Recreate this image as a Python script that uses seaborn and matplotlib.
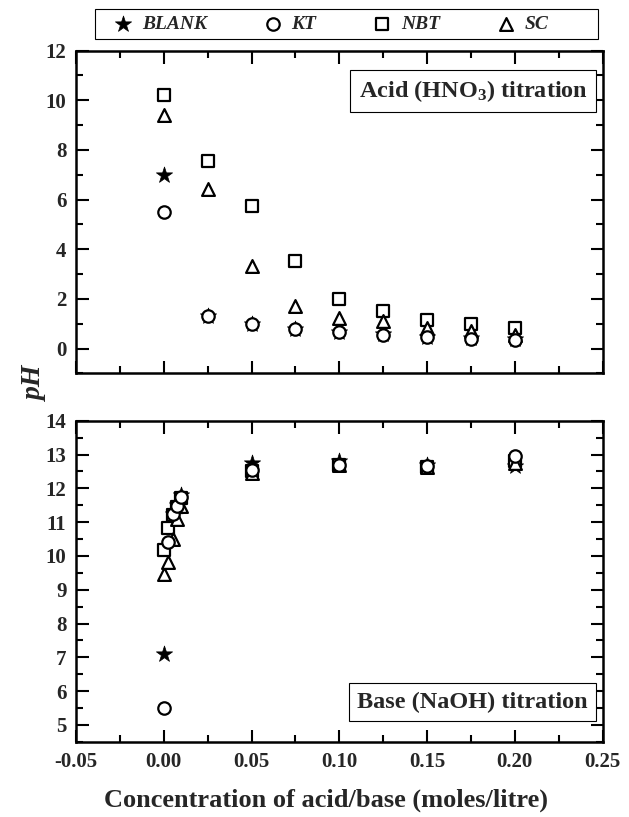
import matplotlib
matplotlib.use("Agg")
import matplotlib.pyplot as plt
import seaborn as sns
import numpy as np
from matplotlib.ticker import MultipleLocator, FormatStrFormatter
from matplotlib.patches import Rectangle

# ---------------- data ----------------
series = ["BLANK", "KT", "NBT", "SC"]

acid_x = [0.0, 0.025, 0.05, 0.075, 0.1, 0.125, 0.15, 0.175, 0.2]
acid_blank = [7.0, 1.30, 1.00, 0.80, 0.65, 0.58, 0.48, 0.42, 0.38]
acid_kt = [5.52, 1.30, 0.99, 0.80, 0.66, 0.56, 0.45, 0.40, 0.36]
acid_nbt = [10.2, 7.56, 5.74, 3.51, 2.00, 1.53, 1.17, 0.97, 0.83]
acid_sc = [9.4, 6.42, 3.31, 1.70, 1.23, 1.10, 0.83, 0.70, 0.56]

base_x_blank = [0.0, 0.005, 0.0075, 0.01, 0.05, 0.1, 0.15, 0.2]
base_blank = [7.1, 11.25, 11.5, 11.8, 12.75, 12.8, 12.7, 12.65]
base_x = [0.0, 0.0025, 0.005, 0.0075, 0.01, 0.05, 0.1, 0.15, 0.2]
base_kt = [5.51, 10.42, 11.23, 11.47, 11.73, 12.55, 12.7, 12.65, 12.95]
base_nbt = [10.18, 10.83, 11.2, 11.45, 11.7, 12.5, 12.68, 12.62, 12.8]
base_sc = [9.46, 9.82, 10.49, 11.1, 11.49, 12.45, 12.68, 12.62, 12.75]

# ---------------- style ----------------
sns.set_style("ticks")
plt.rcParams["font.family"] = ["Liberation Serif", "DejaVu Serif"]
plt.rcParams["font.weight"] = "bold"
plt.rcParams["mathtext.fontset"] = "custom"
plt.rcParams["mathtext.rm"] = "Liberation Serif:bold"
plt.rcParams["mathtext.bf"] = "Liberation Serif:bold"
plt.rcParams["mathtext.it"] = "Liberation Serif:bold:italic"

markers = {"BLANK": "*", "KT": "o", "NBT": "s", "SC": "^"}
sizes = {"BLANK": 150, "KT": 80, "NBT": 68, "SC": 85}
faces = {"BLANK": "black", "KT": "white", "NBT": "white", "SC": "white"}
zorders = {"BLANK": 3, "NBT": 4, "SC": 5, "KT": 6}

fig = plt.figure(figsize=(6.29, 8.17), dpi=100)
L, R = 0.121, 0.958
ax1 = fig.add_axes([L, 0.543, R - L, 0.938 - 0.543])
ax2 = fig.add_axes([L, 0.092, R - L, 0.485 - 0.092])

acid = {"BLANK": (acid_x, acid_blank), "KT": (acid_x, acid_kt),
        "NBT": (acid_x, acid_nbt), "SC": (acid_x, acid_sc)}
base = {"BLANK": (base_x_blank, base_blank), "KT": (base_x, base_kt),
        "NBT": (base_x, base_nbt), "SC": (base_x, base_sc)}

handles = {}
for ax, dset in [(ax1, acid), (ax2, base)]:
    for name in series:
        xs, ys = dset[name]
        lw = 0.5 if name == "BLANK" else 1.6
        sns.scatterplot(x=xs, y=ys, marker=markers[name], s=sizes[name],
                        color="black", facecolor=faces[name], edgecolor="black",
                        linewidth=lw, ax=ax, zorder=zorders[name])
        handles[name] = ax.collections[-1]

for ax in (ax1, ax2):
    ax.set_xlim(-0.05, 0.25)
    ax.xaxis.set_major_locator(MultipleLocator(0.05))
    ax.xaxis.set_minor_locator(MultipleLocator(0.025))
    for sp in ax.spines.values():
        sp.set_visible(True)
        sp.set_linewidth(1.8)
        sp.set_color("black")
        sp.set_zorder(10)
    ax.tick_params(which="both", direction="in", top=True, right=True,
                   width=1.5, color="black", labelsize=15, pad=7)
    ax.tick_params(which="major", length=9)
    ax.tick_params(which="minor", length=5)
    ax.set_xlabel("")
    ax.set_ylabel("")

ax1.set_ylim(-1, 12)
ax1.yaxis.set_major_locator(MultipleLocator(2))
ax1.yaxis.set_minor_locator(MultipleLocator(1))
ax1.tick_params(labelbottom=False)

ax2.set_ylim(4.5, 14)
ax2.yaxis.set_major_locator(MultipleLocator(1))
ax2.yaxis.set_minor_locator(MultipleLocator(0.5))
ax2.xaxis.set_major_formatter(FormatStrFormatter("%.2f"))

for ax in (ax1, ax2):
    for lab in ax.get_xticklabels() + ax.get_yticklabels():
        lab.set_fontweight("bold")

fig.text(325.5 / 629, 1 - 800 / 817, "Concentration of acid/base (moles/litre)",
         fontsize=19, fontweight="bold", ha="center", va="center")

fig.text(0.056, 0.531, "pH", rotation=90, fontsize=20, fontweight="bold",
         fontstyle="italic", ha="center", va="center")

box = dict(boxstyle="square,pad=0.35", facecolor="white", edgecolor="black",
           linewidth=0.8)
ax1.text(0.972, 0.875, "Acid (HNO$_3$) titration", transform=ax1.transAxes,
         ha="right", va="center", fontsize=17.5, fontweight="bold", bbox=box,
         zorder=8)
ax2.text(0.972, 0.124, "Base (NaOH) titration", transform=ax2.transAxes,
         ha="right", va="center", fontsize=17.5, fontweight="bold", bbox=box,
         zorder=8)

# legend (frame drawn separately to match the wide box of the original)
fig.patches.append(Rectangle((95 / 629, 1 - 39 / 817), (598 - 95) / 629,
                             30 / 817, transform=fig.transFigure,
                             facecolor="white", edgecolor="black",
                             linewidth=0.8, zorder=0))
leg = fig.legend([handles[n] for n in series], series, loc="center left",
                 bbox_to_anchor=(104 / 629, 1 - 24 / 817), ncol=4,
                 frameon=False, handlelength=1.0, handletextpad=0.45,
                 columnspacing=2.9, borderpad=0.0,
                 prop={"weight": "bold", "style": "italic", "size": 14})

fig.savefig("out.png", dpi=100)
